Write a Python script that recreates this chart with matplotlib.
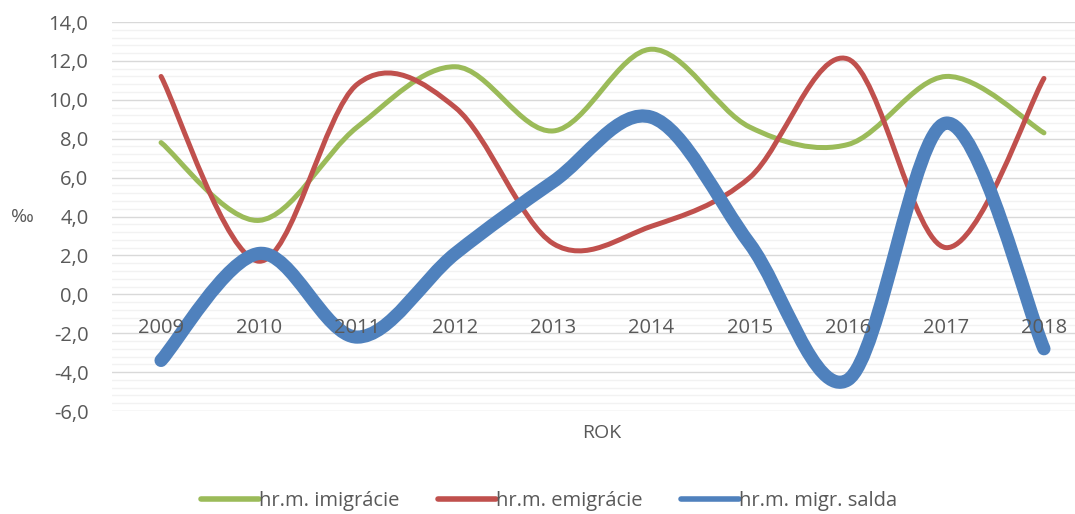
import numpy as np
import matplotlib.pyplot as plt
from matplotlib.path import Path
from matplotlib.patches import PathPatch
from matplotlib.lines import Line2D

years = ['2009', '2010', '2011', '2012', '2013', '2014', '2015', '2016', '2017', '2018']
imigracie = [7.8, 3.8, 8.6, 11.7, 8.4, 12.6, 8.6, 7.7, 11.2, 8.3]
emigracie = [11.2, 1.7, 10.8, 9.6, 2.6, 3.5, 6.0, 12.1, 2.4, 11.1]
saldo = [-3.4, 2.1, -2.2, 2.1, 5.8, 9.1, 2.6, -4.4, 8.8, -2.8]
labels = ['hr.m. imigrácie', 'hr.m. emigrácie', 'hr.m. migr. salda']
colors = ['#9BBB59', '#C0504D', '#4F81BD']
widths = [3.6, 3.6, 9.5]

plt.rcParams['font.family'] = ['Open Sans', 'DejaVu Sans']


def smooth_path(x, y):
    # excel-like smoothed line: bezier segments, catmull-rom control points
    pts = np.column_stack([x, y]).astype(float)
    n = len(pts)
    verts = [pts[0]]
    codes = [Path.MOVETO]
    for i in range(n - 1):
        p0 = pts[max(i - 1, 0)]
        p1 = pts[i]
        p2 = pts[i + 1]
        p3 = pts[min(i + 2, n - 1)]
        c1 = p1 + (p2 - p0) / 6.0
        c2 = p2 - (p3 - p1) / 6.0
        verts += [c1, c2, p2]
        codes += [Path.CURVE4] * 3
    return Path(verts, codes)


fig = plt.figure(figsize=(10.75, 5.14), dpi=100)
ax = fig.add_axes([112 / 1075, 1 - 411 / 514, (1075 - 112) / 1075, (411 - 22) / 514])

x = np.arange(len(years))
for vals, c, lw in zip([imigracie, emigracie, saldo], colors, widths):
    patch = PathPatch(smooth_path(x, vals), facecolor='none', edgecolor=c,
                      lw=lw, capstyle='round', joinstyle='round', zorder=3)
    ax.add_patch(patch)

ax.set_ylim(-6, 14)
ax.set_xlim(-0.5, -0.5 + (1075 - 112) / 98.1)

ax.set_yticks(np.arange(-6, 14.1, 2))
ax.set_yticklabels([f'{v:.1f}'.replace('.', ',') for v in np.arange(-6, 14.1, 2)])
ax.set_yticks(np.arange(-6, 14.01, 0.4), minor=True)
ax.grid(True, which='minor', axis='y', color='#F2F2F2', lw=1.0, zorder=0)
ax.grid(True, which='major', axis='y', color='#D9D9D9', lw=1.0, zorder=1)

ax.set_xticks(x)
ax.set_xticklabels(years)
ax.spines['bottom'].set_position(('data', 0))
for s in ax.spines.values():
    s.set_visible(False)
ax.xaxis.set_zorder(5)
ax.tick_params(axis='x', length=0, pad=17, labelsize=14.5, labelcolor='#595959')
ax.tick_params(axis='y', which='both', length=0, pad=17, labelsize=14.5, labelcolor='#595959')

fig.text(22 / 1075, 1 - 217 / 514, '‰', ha='center', va='center', fontsize=14, color='#595959')
fig.text(602 / 1075, 1 - 433 / 514, 'ROK', ha='center', va='center', fontsize=14, color='#595959')

handles = [Line2D([], [], color=c, lw=4, solid_capstyle='round') for c in colors]
fig.legend(handles, labels, loc='center', bbox_to_anchor=(549 / 1075, 1 - 501 / 514),
           ncol=3, frameon=False, handlelength=2.9, handletextpad=0.0,
           columnspacing=1.9, fontsize=14.5, labelcolor='#595959')

fig.savefig('out.png', dpi=100)
